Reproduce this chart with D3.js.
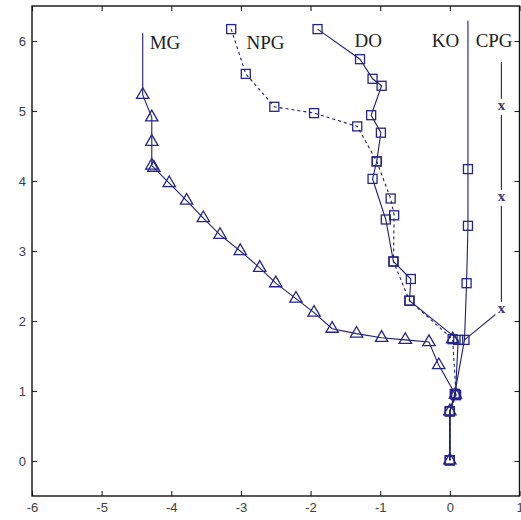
<!DOCTYPE html>
<html><head><meta charset="utf-8">
<script src="https://cdn.jsdelivr.net/npm/d3@7"></script>
<style>
html,body{margin:0;padding:0;background:#fff;}
svg{display:block;}
</style></head><body>
<svg id="chart" width="521" height="520"></svg>
<script>
// Axis ticks
const xTicks = [-6, -5, -4, -3, -2, -1, 0, 1];
const yTicks = [0, 1, 2, 3, 4, 5, 6];

// MG path (triangles, solid); a bare stem rises above the first point
const mgX = [-4.41, -4.28, -4.28, -4.28, -4.25, -4.03, -3.78, -3.54, -3.30, -3.01, -2.73, -2.50, -2.21, -1.95, -1.69, -1.34, -0.98, -0.64, -0.30, -0.16, 0.08, 0.00, 0.00];
const mgY = [5.23, 4.91, 4.56, 4.22, 4.19, 3.97, 3.72, 3.47, 3.23, 3.00, 2.76, 2.54, 2.32, 2.12, 1.89, 1.82, 1.76, 1.73, 1.70, 1.37, 0.95, 0.71, 0.01];
const mgStemTop = 6.11;

// NPG path (squares, dashed)
const npgX = [-3.14, -2.93, -2.52, -1.95, -1.33, -1.05, -0.85, -0.80, -0.81, -0.58, 0.04, 0.09, 0.00, 0.00];
const npgY = [6.17, 5.53, 5.06, 4.97, 4.78, 4.28, 3.75, 3.51, 2.85, 2.29, 1.74, 0.94, 0.71, 0.01];

// DO path (squares, solid)
const doX = [-1.90, -1.29, -1.11, -0.98, -1.13, -0.99, -1.05, -1.11, -0.92, -0.81, -0.56, -0.58, 0.12, 0.08, 0.00, 0.00];
const doY = [6.17, 5.74, 5.46, 5.36, 4.94, 4.69, 4.28, 4.03, 3.45, 2.85, 2.60, 2.29, 1.73, 0.95, 0.71, 0.01];

// KO path (squares, solid) hanging from a long stem
const koX = [0.26, 0.26, 0.24, 0.21, 0.07, 0.00, 0.00];
const koY = [4.17, 3.36, 2.54, 1.73, 0.96, 0.71, 0.01];
const koStemTop = 6.29;

// CPG path ("x" marks) joining the KO branch at its lower end
const cpgX = [0.74, 0.74, 0.74, 0.21];
const cpgY = [5.06, 3.76, 2.16, 1.73];
const cpgStemTop = 5.70;

// Lone triangle where the NPG branch meets the trunk
const jointTriX = [0.04];
const jointTriY = [1.74];

// Branch names
const branchNames = ["MG", "NPG", "DO", "KO", "CPG"];

const svg = d3.select("#chart");
const plotLeft = 32, plotRight = 519.5, plotTop = 6, plotBottom = 496;

const x = d3.scaleLinear().domain([-6, 1]).range([plotLeft, plotRight]);
const y = d3.scaleLinear().domain([-0.5, 6.5]).range([plotBottom, plotTop]);

const lineCol = "#1e1e74";
const markCol = "#24248a";
// plain hyphen-minus tick labels
const tickFmt = d => String(d);

// Frame and ticks
const axisStyle = g => {
  g.select(".domain").remove();
  g.selectAll(".tick line").attr("stroke", "#222").attr("stroke-width", 1.1);
  g.selectAll(".tick text").attr("fill", "#404040")
    .attr("font-family", "Liberation Sans, Arial, sans-serif").attr("font-size", 13);
};
svg.append("g").attr("transform", `translate(0,${plotBottom})`)
  .call(d3.axisBottom(x).tickValues(xTicks).tickFormat(tickFmt).tickSizeInner(-5).tickSizeOuter(0).tickPadding(7))
  .call(axisStyle);
svg.append("g").attr("transform", `translate(${plotLeft},0)`)
  .call(d3.axisLeft(y).tickValues(yTicks).tickFormat(tickFmt).tickSizeInner(-5).tickSizeOuter(0).tickPadding(6))
  .call(axisStyle);
svg.append("g").attr("transform", `translate(0,${plotTop})`)
  .call(d3.axisTop(x).tickValues(xTicks).tickFormat("").tickSizeInner(-5).tickSizeOuter(0))
  .call(axisStyle);
svg.append("g").attr("transform", `translate(${plotRight},0)`)
  .call(d3.axisRight(y).tickValues(yTicks).tickFormat("").tickSizeInner(-5).tickSizeOuter(0))
  .call(axisStyle);
svg.append("rect").attr("x", plotLeft).attr("y", plotTop)
  .attr("width", plotRight - plotLeft).attr("height", plotBottom - plotTop)
  .attr("fill", "none").attr("stroke", "#111").attr("stroke-width", 1.4);

const zip = (xs, ys) => xs.map((v, i) => [v, ys[i]]);
const line = d3.line().x(d => x(d[0])).y(d => y(d[1]));
const plot = svg.append("g");

function drawPath(pts, dash) {
  plot.append("path").attr("d", line(pts))
    .attr("fill", "none").attr("stroke", lineCol).attr("stroke-width", 1.1)
    .attr("stroke-dasharray", dash || null);
}

const mgPts = zip(mgX, mgY);
const npgPts = zip(npgX, npgY);
const doPts = zip(doX, doY);
const koPts = zip(koX, koY);
const cpgPts = zip(cpgX, cpgY);

drawPath([[mgX[0], mgStemTop]].concat(mgPts));
drawPath(npgPts, "3,3");
drawPath(doPts);
drawPath([[koX[0], koStemTop]].concat(koPts));
drawPath([[cpgX[0], cpgStemTop]].concat(cpgPts));

// "x" marks on the CPG branch, each cut out of its line
const xMarks = plot.selectAll("g.xm").data(cpgPts.slice(0, 3)).join("g")
  .attr("class", "xm")
  .attr("transform", d => `translate(${x(d[0])},${y(d[1])})`);
xMarks.append("rect").attr("x", -6).attr("y", -8).attr("width", 12).attr("height", 16).attr("fill", "#fff");
xMarks.append("text").text("x").attr("text-anchor", "middle").attr("y", 3.5)
  .attr("font-family", "Liberation Serif, Times New Roman, serif").attr("font-weight", "bold")
  .attr("font-size", 15).attr("fill", "#3a3a6a");

// Square markers
function squares(pts) {
  plot.append("g").selectAll("rect").data(pts).join("rect")
    .attr("x", d => x(d[0]) - 4.5).attr("y", d => y(d[1]) - 4.5)
    .attr("width", 9).attr("height", 9)
    .attr("fill", "none").attr("stroke", markCol).attr("stroke-width", 1.3);
}
// Triangle markers
const tri = d3.symbol().type(d3.symbolTriangle).size(66);
function triangles(pts) {
  plot.append("g").selectAll("path").data(pts).join("path")
    .attr("d", tri)
    .attr("transform", d => `translate(${x(d[0])},${y(d[1])})`)
    .attr("fill", "none").attr("stroke", markCol).attr("stroke-width", 1.3);
}
squares(npgPts);
squares(doPts);
squares(koPts);
triangles(mgPts);
triangles(zip(jointTriX, jointTriY));

// Branch names
const labelAt = [[-4.31, 5.886], [-2.92, 5.886], [-1.37, 5.92], [-0.26, 5.92], [0.37, 5.92]];
svg.append("g").selectAll("text").data(branchNames).join("text")
  .text(d => d)
  .attr("x", (d, i) => x(labelAt[i][0]))
  .attr("y", (d, i) => y(labelAt[i][1]))
  .attr("font-family", "Liberation Serif, Times New Roman, serif")
  .attr("font-size", 19).attr("fill", "#222");
</script>
</body></html>
